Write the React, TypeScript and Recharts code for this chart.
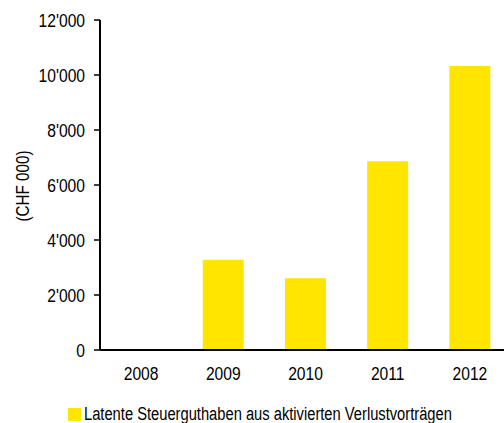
import React from 'react';
import { BarChart, Bar, XAxis, YAxis } from 'recharts';

const years = ['2008', '2009', '2010', '2011', '2012'];
const values = [0, 3280, 2610, 6860, 10330];
const yTicks = [0, 2000, 4000, 6000, 8000, 10000, 12000];
const seriesName = 'Latente Steuerguthaben aus aktivierten Verlustvorträgen';
const yLabel = '(CHF 000)';

const data = years.map((y, i) => ({ year: y, value: values[i] }));

const FONT = "'Liberation Sans', Arial, sans-serif";
const YELLOW = '#FFE500';
const SX = 0.845;
const LEGEND_SX = 0.817;

const fmt = (v: number) => {
  if (v === 0) return '0';
  const th = Math.floor(v / 1000);
  const rest = String(v % 1000).padStart(3, '0');
  return `${th}'${rest}`;
};

const XTick = (props: any) => {
  const { x, y, payload } = props;
  return (
    <g transform={`translate(${x},${y}) scale(${SX},1)`}>
      <text x={0} y={0} dy="0.71em" textAnchor="middle" fill="#000" fontSize={18.5} fontFamily={FONT}>
        {payload.value}
      </text>
    </g>
  );
};

const YTick = (props: any) => {
  const { x, y, payload } = props;
  return (
    <g transform={`translate(${x},${y}) scale(${SX},1)`}>
      <text x={0} y={0} dy="0.355em" textAnchor="end" fill="#000" fontSize={18.5} fontFamily={FONT}>
        {fmt(payload.value)}
      </text>
    </g>
  );
};

const YLabel = (props: any) => {
  const vb = props.viewBox || { x: 0, y: 20, width: 100, height: 330 };
  const cx = vb.x + 23;
  const cy = vb.y + vb.height / 2 + 1;
  return (
    <g transform={`translate(${cx},${cy}) rotate(-90) scale(${SX},1)`}>
      <text x={0} y={0} dy="0.355em" textAnchor="middle" fill="#000" fontSize={18} fontFamily={FONT}>
        {yLabel}
      </text>
    </g>
  );
};

export default function App() {
  return (
    <div style={{ position: 'absolute', left: 0, top: 0, width: 504, height: 423, overflow: 'hidden', background: '#fff' }}>
      <BarChart
        width={520}
        height={423}
        data={data}
        margin={{ top: 20, right: 9, bottom: 43, left: 0 }}
        barCategoryGap="25%"
      >
        <XAxis
          dataKey="year"
          height={30}
          axisLine={{ stroke: '#000', strokeWidth: 2 }}
          tickLine={false}
          tickSize={0}
          tickMargin={17}
          tick={<XTick />}
          interval={0}
        />
        <YAxis
          width={100}
          domain={[0, 12000]}
          ticks={yTicks}
          axisLine={{ stroke: '#000', strokeWidth: 2 }}
          tickLine={{ stroke: '#000', strokeWidth: 1.5 }}
          tickSize={6}
          tickMargin={9}
          tick={<YTick />}
          interval={0}
          label={<YLabel />}
        />
        <Bar dataKey="value" name={seriesName} fill={YELLOW} isAnimationActive={false} />
      </BarChart>
      <div
        style={{
          position: 'absolute',
          left: 68,
          top: 405,
          display: 'flex',
          alignItems: 'center',
          fontFamily: FONT,
          fontSize: 18,
          color: '#000',
          whiteSpace: 'nowrap',
        }}
      >
        <span style={{ display: 'inline-block', width: 13, height: 13, background: YELLOW, marginRight: 3, flex: 'none' }} />
        <span style={{ display: 'inline-block', lineHeight: '18px', transform: `scaleX(${LEGEND_SX})`, transformOrigin: 'left center' }}>
          {seriesName}
        </span>
      </div>
    </div>
  );
}
